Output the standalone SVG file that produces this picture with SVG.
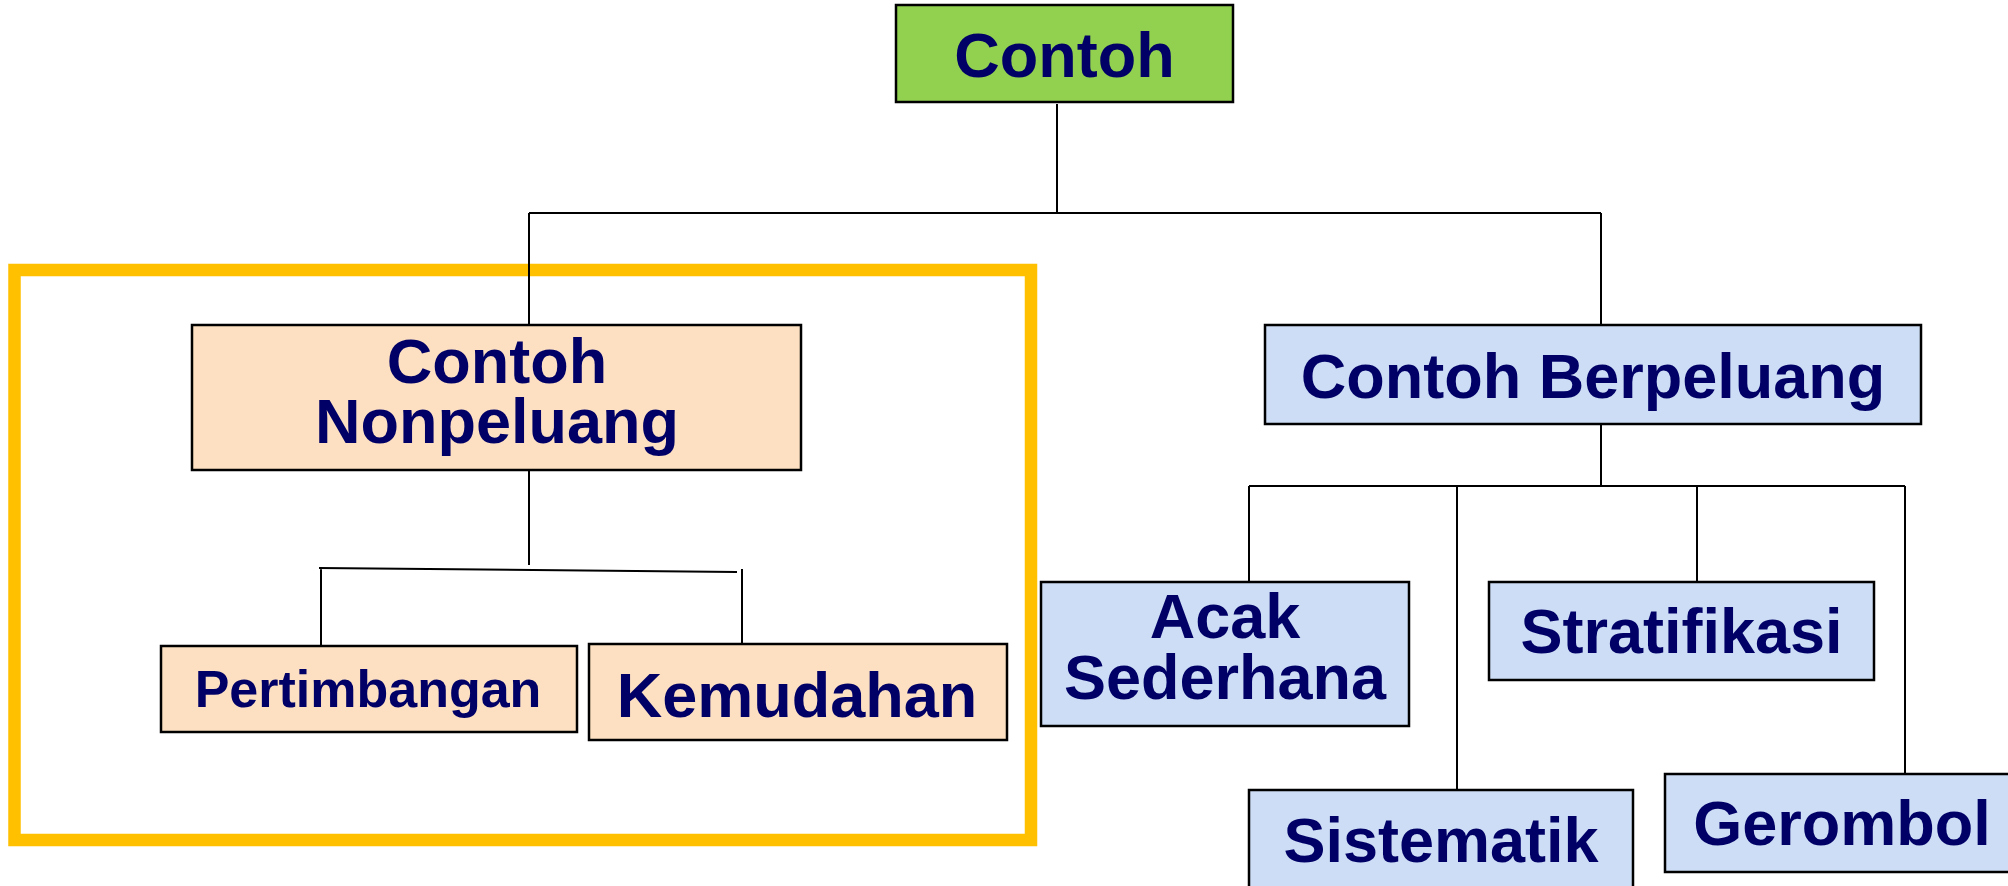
<svg xmlns="http://www.w3.org/2000/svg" width="2008" height="886" viewBox="0 0 2008 886">
  <style>
    .box { stroke: #000; stroke-width: 2.5; }
    .root { fill: #92D050; }
    .np { fill: #FCE0C1; }
    .p { fill: #CCDDF5; }
    .lbl { font-family: "Liberation Sans", Arial, sans-serif; font-weight: bold; fill: #000066; text-anchor: middle; font-size: 63px; }
    .conn { stroke: #000; stroke-width: 2; fill: none; }
  </style>
  <rect width="2008" height="886" fill="#fff"/>

  <!-- highlight frame around the non-probability branch -->
  <rect id="highlight" x="14.5" y="270" width="1016.5" height="570" fill="none" stroke="#FFC000" stroke-width="12.5"/>

  <g id="connectors" class="conn">
    <path d="M1057,104 V213 M529,213 H1601 M529,213 V325 M1601,213 V325"/>
    <path d="M529,470 V565 M319,568 L737,572 M321,567 V645 M742,569 V648"/>
    <path d="M1601,424 V486 M1249,486 H1905 M1249,486 V582 M1457,486 V790 M1697,486 V582 M1905,486 V774"/>
  </g>

  <g id="contoh">
    <rect class="box root" x="896" y="5" width="337" height="97"/>
    <text class="lbl" x="1064.5" y="77">Contoh</text>
  </g>

  <g id="nonpeluang">
    <rect class="box np" x="192" y="325" width="609" height="145"/>
    <text class="lbl" x="497" y="383">Contoh</text>
    <text class="lbl" x="497" y="443">Nonpeluang</text>
  </g>

  <g id="pertimbangan">
    <rect class="box np" x="161" y="646" width="416" height="86"/>
    <text class="lbl" x="368" y="707" style="font-size:52px">Pertimbangan</text>
  </g>

  <g id="kemudahan">
    <rect class="box np" x="589" y="644" width="418" height="96"/>
    <text class="lbl" x="797" y="717">Kemudahan</text>
  </g>

  <g id="berpeluang">
    <rect class="box p" x="1265" y="325" width="656" height="99"/>
    <text class="lbl" x="1593" y="398">Contoh Berpeluang</text>
  </g>

  <g id="acak">
    <rect class="box p" x="1041" y="582" width="368" height="144"/>
    <text class="lbl" x="1225" y="638">Acak</text>
    <text class="lbl" x="1225" y="699">Sederhana</text>
  </g>

  <g id="stratifikasi">
    <rect class="box p" x="1489" y="582" width="385" height="98"/>
    <text class="lbl" x="1681.5" y="653">Stratifikasi</text>
  </g>

  <g id="sistematik">
    <rect class="box p" x="1249" y="790" width="384" height="120"/>
    <text class="lbl" x="1441" y="862">Sistematik</text>
  </g>

  <g id="gerombol">
    <rect class="box p" x="1665" y="774" width="360" height="98"/>
    <text class="lbl" x="1842" y="845">Gerombol</text>
  </g>
</svg>
